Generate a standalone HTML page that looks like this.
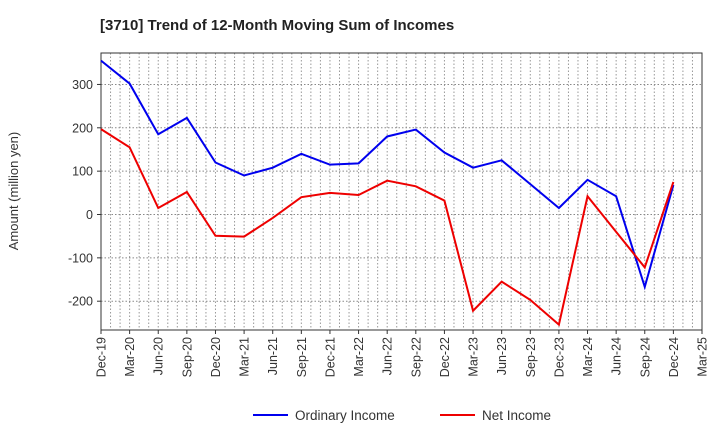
<!DOCTYPE html>
<html><head><meta charset="utf-8"><style>
body{margin:0;background:#fff;font-family:"Liberation Sans",sans-serif}
</style></head><body>
<svg id="c" width="720" height="440" xmlns="http://www.w3.org/2000/svg">
<text x="100" y="30" font-size="15" font-weight="bold" fill="#222">[3710]  Trend of 12-Month Moving Sum of Incomes</text>
<g id="grid"></g><g id="axes"></g><g id="series"></g>
<text transform="translate(18,191) rotate(-90)" text-anchor="middle" font-size="13" fill="#333">Amount (million yen)</text>
<g>
<line x1="253" y1="415" x2="288" y2="415" stroke="#0000ee" stroke-width="2"/>
<text x="295" y="420" font-size="13.5" fill="#333">Ordinary Income</text>
<line x1="440" y1="415" x2="475" y2="415" stroke="#ee0000" stroke-width="2"/>
<text x="482" y="420" font-size="13.5" fill="#333">Net Income</text>
</g>
</svg>
<script>
const xLabels=["Dec-19","Mar-20","Jun-20","Sep-20","Dec-20","Mar-21","Jun-21","Sep-21","Dec-21","Mar-22","Jun-22","Sep-22","Dec-22","Mar-23","Jun-23","Sep-23","Dec-23","Mar-24","Jun-24","Sep-24","Dec-24","Mar-25"];
const yTicks=[-200,-100,0,100,200,300];
const ordinaryIncome=[355,302,185,223,120,90,108,140,115,118,180,196,143,108,125,70,15,80,42,-167,68];
const netIncome=[197,155,15,52,-49,-51,-8,40,50,45,78,65,32,-222,-155,-197,-254,42,-40,-122,75];
const L=101,R=702,T=53,B=330,NS="http://www.w3.org/2000/svg";
const xs=i=>L+i*(R-L)/(xLabels.length-1);
const ys=v=>214.5-v*0.4335;
function mk(t,a,p){const e=document.createElementNS(NS,t);for(const k in a)e.setAttribute(k,a[k]);p.appendChild(e);return e;}
const g=document.getElementById('grid'),ax=document.getElementById('axes'),s=document.getElementById('series');
for(let m=1;m<(xLabels.length-1)*3;m++){const x=L+m*(R-L)/((xLabels.length-1)*3);
const l=mk('line',{x1:x,x2:x,y1:T,y2:B,stroke:'#999','stroke-dasharray':'1.5,2','stroke-width':1},g);

}
yTicks.forEach(v=>{const y=ys(v);
const l=mk('line',{x1:L,x2:R,y1:y,y2:y,stroke:'#888','stroke-dasharray':'1.5,2','stroke-width':1},g);


mk('line',{x1:L-4,x2:L,y1:y,y2:y,stroke:'#333'},ax);
const t=mk('text',{x:L-8,y:y+4.5,'text-anchor':'end','font-size':12.5,fill:'#333'},ax);t.textContent=v;

});
xLabels.forEach((lb,i)=>{const x=xs(i);
mk('line',{x1:x,x2:x,y1:B,y2:B+4,stroke:'#333'},ax);
const t=mk('text',{transform:`translate(${x+4.5},${B+7}) rotate(-90)`,'text-anchor':'end','font-size':12.5,fill:'#333'},ax);t.textContent=lb;

});
const f=mk('rect',{x:L,y:T,width:R-L,height:B-T,fill:'none',stroke:'#333','stroke-width':1},ax);


[[ordinaryIncome,'#0000ee','ordinary-income-line'],[netIncome,'#ee0000','net-income-line']].forEach(([d,c,n])=>{
const p=mk('polyline',{points:d.map((v,i)=>xs(i)+','+ys(v)).join(' '),fill:'none',stroke:c,'stroke-width':2},s);

});
</script>
</body></html>
